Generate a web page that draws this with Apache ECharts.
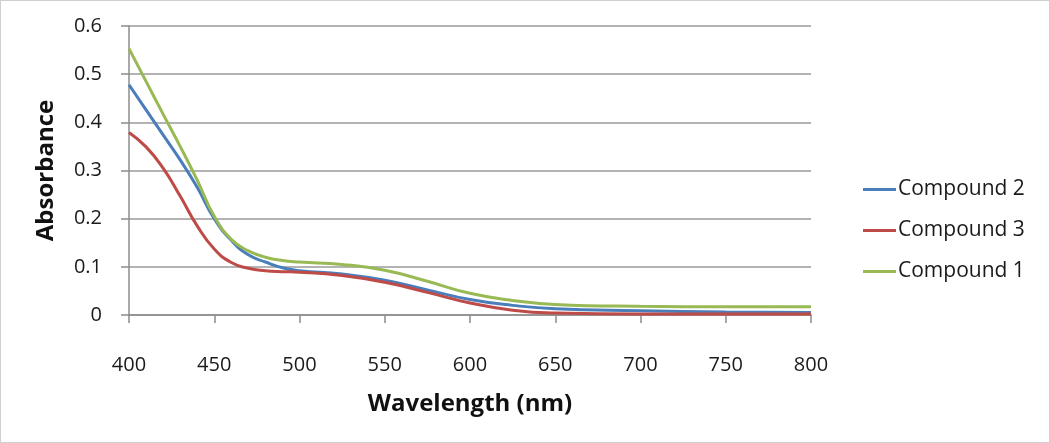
<!DOCTYPE html>
<html><head><meta charset="utf-8">
<script src="https://cdn.jsdelivr.net/npm/echarts@6/dist/echarts.min.js"></script>
<style>html,body{margin:0;padding:0;background:#fff}#c{width:1050px;height:443px;box-sizing:border-box;border:1px solid #d0d0d0}</style>
</head><body><div id="c"></div>
<script>
const wavelengths = [400,410,420,430,440,450,460,470,480,490,500,525,550,575,600,625,650,700,750,800];
const compound2 = [0.478,0.426,0.374,0.322,0.265,0.2,0.155,0.125,0.11,0.098,0.092,0.085,0.072,0.052,0.032,0.02,0.013,0.009,0.006,0.005];
const compound3 = [0.379,0.349,0.305,0.247,0.185,0.137,0.109,0.097,0.092,0.09,0.089,0.082,0.068,0.047,0.025,0.01,0.004,0.002,0.002,0.002];
const compound1 = [0.553,0.485,0.417,0.35,0.28,0.205,0.157,0.133,0.12,0.113,0.11,0.105,0.093,0.07,0.045,0.03,0.022,0.018,0.017,0.017];
const seriesNames = ['Compound 2','Compound 3','Compound 1'];
const seriesColors = ['#4A7EBB','#BE4B48','#98B954'];
const seriesData = [compound2, compound3, compound1];

const font = 'Open Sans, Liberation Sans, sans-serif';
const chart = echarts.init(document.getElementById('c'), null, {renderer:'canvas'});
chart.setOption({
  animation:false,
  grid:{left:128, right:238, top:25, bottom:127, containLabel:false},
  legend:{
    orient:'vertical', left:857, top:173, itemWidth:33, itemHeight:3, itemGap:20,
    icon:'rect',
    textStyle:{fontFamily:font, fontSize:21, color:'#1a1a1a', padding:[0,0,0,-3]},
    data:seriesNames
  },
  xAxis:{
    type:'value', min:400, max:800, interval:50,
    name:'Wavelength (nm)', nameLocation:'middle', nameGap:77,
    nameTextStyle:{fontFamily:font, fontSize:24, fontWeight:'bold', color:'#111'},
    axisLine:{show:true, lineStyle:{color:'#8c8c8c', width:1.5}},
    axisTick:{show:true, length:8, lineStyle:{color:'#8c8c8c', width:1.5}},
    axisLabel:{margin:40, fontFamily:font, fontSize:20, color:'#1a1a1a'},
    splitLine:{show:false}
  },
  yAxis:{
    type:'value', min:0, max:0.6, interval:0.1,
    name:'Absorbance', nameLocation:'middle', nameGap:71,
    nameTextStyle:{fontFamily:font, fontSize:24, fontWeight:'bold', color:'#111'},
    axisLine:{show:true, lineStyle:{color:'#8c8c8c', width:1.5}},
    axisTick:{show:true, length:8, lineStyle:{color:'#8c8c8c', width:1.5}},
    axisLabel:{margin:27, fontFamily:font, fontSize:20, color:'#1a1a1a', formatter:v=>String(+v.toFixed(1))},
    splitLine:{show:true, lineStyle:{color:'#9a9a9a', width:1.5}}
  },
  series: seriesNames.map((n,i)=>({
    name:n, type:'line', smooth:0.5, showSymbol:false, symbol:'none',
    color:seriesColors[i],
    lineStyle:{color:seriesColors[i], width:3},
    data: wavelengths.map((w,j)=>[w, seriesData[i][j]])
  }))
});
</script></body></html>
